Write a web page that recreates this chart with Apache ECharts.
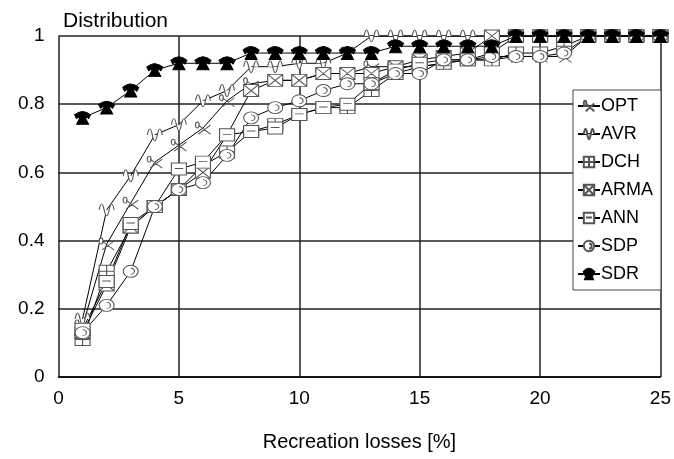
<!DOCTYPE html>
<html>
<head>
  <meta charset="utf-8">
  <script src="https://cdn.jsdelivr.net/npm/echarts@6/dist/echarts.min.js"></script>
  <style>
    body { margin: 0; background: #fff; }
    #chart { width: 674px; height: 459px; }
  </style>
</head>
<body>
  <div id="chart"></div>
  <script>
    var xs = [1,2,3,4,5,6,7,8,9,10,11,12,13,14,15,16,17,18,19,20,21,22,23,24,25];
    var names = ['OPT', 'AVR', 'DCH', 'ARMA', 'ANN', 'SDP', 'SDR'];
    var OPT  = [0.15,0.39,0.51,0.63,0.68,0.73,0.81,0.86,0.87,0.87,0.89,0.89,0.91,0.91,0.91,0.92,0.93,0.93,0.94,0.94,0.94,1,1,1,1];
    var AVR  = [0.17,0.49,0.59,0.71,0.74,0.81,0.84,0.91,0.91,0.92,0.92,0.95,1,1,1,1,1,1,1,1,1,1,1,1,1];
    var DCH  = [0.11,0.31,0.44,0.50,0.55,0.62,0.66,0.72,0.74,0.77,0.79,0.79,0.84,0.89,0.91,0.92,0.93,0.93,0.95,0.95,0.97,1,1,1,1];
    var ARMA = [0.13,0.27,0.44,0.50,0.55,0.60,0.71,0.84,0.87,0.87,0.89,0.89,0.89,0.91,0.93,0.94,0.95,1,1,1,1,1,1,1,1];
    var ANN  = [0.14,0.28,0.45,0.50,0.61,0.63,0.71,0.72,0.73,0.77,0.79,0.80,0.86,0.90,0.92,0.93,0.93,0.95,1,1,1,1,1,1,1];
    var SDP  = [0.13,0.21,0.31,0.50,0.55,0.57,0.65,0.76,0.79,0.81,0.84,0.86,0.86,0.89,0.89,0.93,0.93,0.94,0.94,0.94,0.95,1,1,1,1];
    var SDR  = [0.76,0.79,0.84,0.90,0.92,0.92,0.92,0.95,0.95,0.95,0.95,0.95,0.95,0.97,0.97,0.97,0.97,0.97,1,1,1,1,1,1,1];
    var values = [OPT, AVR, DCH, ARMA, ANN, SDP, SDR];

    // rough look-alikes of the original marker glyphs
    var symbols = [
      'path://M3,4 L16,10 M3,10 L16,4 M0,4 A2,2 0 1 0 4,4 A2,2 0 1 0 0,4',
      'path://M0,6 C2,1 4,1 6,6 C8,11 10,11 12,6 C14,1 16,1 18,6',
      'path://M0,0 H14 V12 H0 Z M7,0 V12 M0,6 H14',
      'path://M0,0 H14 V11 H0 Z M0,0 L14,11 M14,0 L0,11',
      'path://M0,0 H14 V11 H0 Z M3,5 H11',
      'path://M6,0 A6,6 0 1 1 5.9,0 Z M6,3 A3,3 0 0 1 6,9',
      'path://M0,4 Q8,-2 16,4 L14,7 L11,5 L11,7 L14,12 L2,12 L5,7 L5,5 L2,7 Z'
    ];

    var series = names.map(function (n, i) {
      var isPhone = n === 'SDR';
      return {
        name: n,
        type: 'line',
        data: xs.map(function (x, j) { return [x, values[i][j]]; }),
        symbol: symbols[i],
        symbolSize: isPhone ? [16, 13] : [15, 12],
        lineStyle: { color: '#000', width: 1 },
        itemStyle: {
          color: isPhone ? '#000' : '#fff',
          borderColor: isPhone ? '#000' : '#555',
          borderWidth: 1
        },
        z: isPhone ? 3 : 2
      };
    });

    var chart = echarts.init(document.getElementById('chart'));
    chart.setOption({
      animation: false,
      textStyle: { fontFamily: 'Liberation Sans, Arial, sans-serif', color: '#000' },
      title: {
        text: 'Distribution', left: 58, top: 6,
        textStyle: { fontSize: 21, fontWeight: 'normal', color: '#000' }
      },
      grid: { left: 58.5, right: 12, top: 36, bottom: 82 },
      legend: {
        orient: 'vertical', right: 13, top: 90,
        data: names,
        backgroundColor: '#fff', borderColor: '#444', borderWidth: 1,
        padding: [7, 8, 7, 4], itemGap: 10, itemWidth: 22, itemHeight: 13,
        textStyle: { fontSize: 18, color: '#000', padding: [0, 0, 0, -4] }
      },
      xAxis: {
        type: 'value', min: 0, max: 25, interval: 5,
        name: 'Recreation losses [%]', nameLocation: 'middle', nameGap: 55,
        nameTextStyle: { fontSize: 20, color: '#000' },
        axisLine: { show: true, lineStyle: { color: '#000', width: 1.5 } },
        axisTick: { show: false },
        axisLabel: { fontSize: 19, color: '#000', margin: 12 },
        splitLine: { show: true, lineStyle: { color: '#222', width: 1.5 } }
      },
      yAxis: {
        type: 'value', min: 0, max: 1, interval: 0.2,
        axisLine: { show: false },
        axisTick: { show: false },
        axisLabel: { fontSize: 19, color: '#000', margin: 14 },
        splitLine: { show: true, lineStyle: { color: '#222', width: 1.5 } }
      },
      series: series
    });
  </script>
</body>
</html>
